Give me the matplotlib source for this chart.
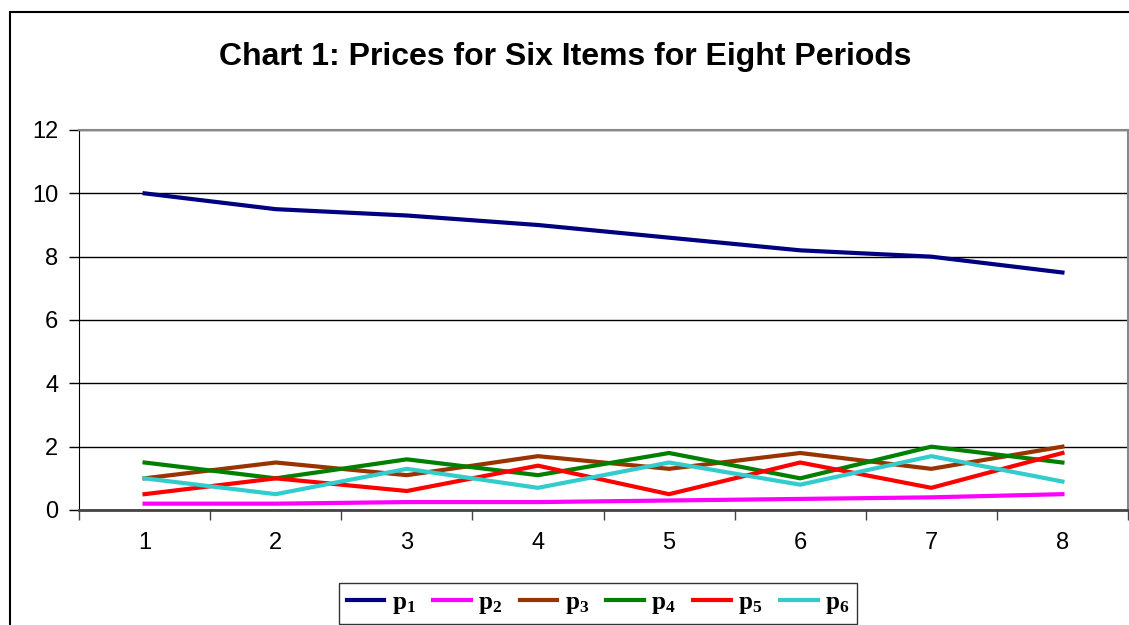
import numpy as np
import matplotlib.pyplot as plt
from matplotlib.patches import Rectangle

plt.rcParams['font.family'] = ['Liberation Sans', 'DejaVu Sans']
plt.rcParams['mathtext.fontset'] = 'custom'
plt.rcParams['mathtext.rm'] = 'Liberation Serif'
plt.rcParams['mathtext.bf'] = 'Liberation Serif:bold'

periods = [1, 2, 3, 4, 5, 6, 7, 8]
p1 = [10.0, 9.5, 9.3, 9.0, 8.6, 8.2, 8.0, 7.5]
p2 = [0.2, 0.2, 0.25, 0.25, 0.3, 0.35, 0.4, 0.5]
p3 = [1.0, 1.5, 1.1, 1.7, 1.3, 1.8, 1.3, 2.0]
p4 = [1.5, 1.0, 1.6, 1.1, 1.8, 1.0, 2.0, 1.5]
p5 = [0.5, 1.0, 0.6, 1.4, 0.5, 1.5, 0.7, 1.8]
p6 = [1.0, 0.5, 1.3, 0.7, 1.5, 0.8, 1.7, 0.9]

series = [p1, p2, p3, p4, p5, p6]
labels = [r'$\mathbf{p_1}$', r'$\mathbf{p_2}$', r'$\mathbf{p_3}$',
          r'$\mathbf{p_4}$', r'$\mathbf{p_5}$', r'$\mathbf{p_6}$']
colors = ['#000080', '#FF00FF', '#993300', '#008000', '#FF0000', '#33CCCC']

fig = plt.figure(figsize=(11.29, 6.25), dpi=100)
ax = fig.add_axes([79 / 1129, 1 - 510 / 625, 1049 / 1129, 380 / 625])

# outer chart border (cut off at right and bottom)
fig.patches.append(Rectangle((10 / 1129, -0.1), 1.2, 1 - 12 / 625 + 0.1,
                             transform=fig.transFigure, fill=False,
                             edgecolor='black', linewidth=1.5))

for vals, lab, col in zip(series, labels, colors):
    ax.plot(periods, vals, color=col, linewidth=3, label=lab)

ax.set_xlim(0.5, 8.5)
ax.set_ylim(0, 12)
ax.set_yticks(np.arange(0, 13, 2))
ax.set_xticks(periods)
ax.set_xticks(np.arange(0.5, 9, 1), minor=True)
ax.tick_params(axis='x', which='major', length=0, pad=16, labelsize=17)
ax.tick_params(axis='x', which='minor', length=7, width=1, color='#444444')
ax.tick_params(axis='y', length=7, width=1, pad=8, labelsize=17)
ax.grid(axis='y', color='black', linewidth=1)
ax.set_axisbelow(True)

for side in ['top', 'right']:
    ax.spines[side].set_color('#888888')
    ax.spines[side].set_linewidth(1.5)
ax.spines['bottom'].set_color('#444444')
ax.spines['bottom'].set_linewidth(2)
ax.spines['left'].set_color('black')

fig.text(565 / 1129, 1 - 57 / 625, 'Chart 1: Prices for Six Items for Eight Periods',
         ha='center', va='center', fontsize=23, fontweight='bold')

leg = fig.legend(loc='center', bbox_to_anchor=(598 / 1129, 1 - 603 / 625), ncol=6,
                 fontsize=18, frameon=True, fancybox=False, handlelength=1.5,
                 columnspacing=0.7, handletextpad=0.3, borderpad=0.3)
leg.get_frame().set_edgecolor('black')
leg.get_frame().set_linewidth(1)

fig.savefig('out.png', dpi=100)
